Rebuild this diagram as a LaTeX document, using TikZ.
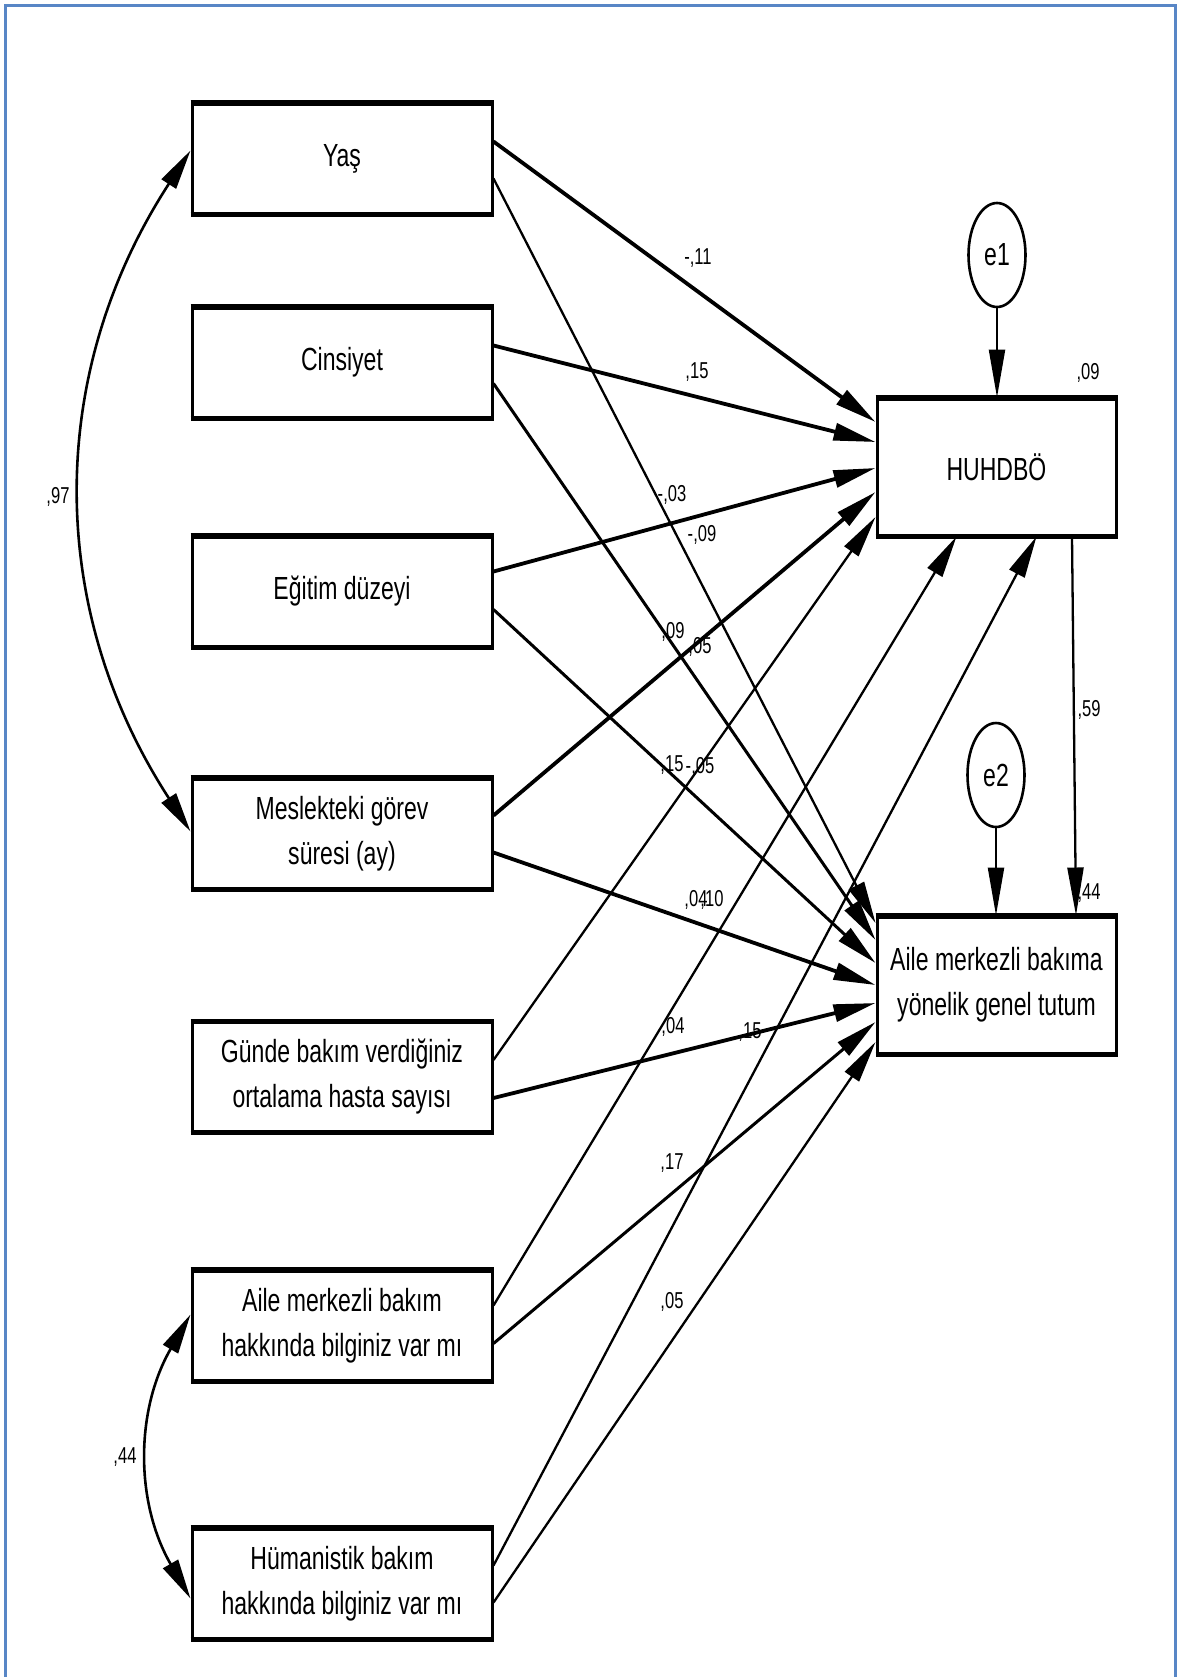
\documentclass[tikz,border=0pt]{standalone}
\usepackage{fontspec}
\setmainfont[FakeStretch=0.72]{Liberation Sans}
\usetikzlibrary{arrows.meta,calc,shapes.geometric}
\definecolor{frameblue}{RGB}{88,134,198}

\begin{document}
\begin{tikzpicture}[x=0.5pt,y=-0.5pt,
  varbox/.style={draw,line width=1.5pt,minimum width=150pt,minimum height=54.5pt,
    inner sep=0pt,align=center,font=\fontsize{16}{22.5}\selectfont},
  outbox/.style={draw,line width=1.5pt,minimum width=119.5pt,minimum height=68pt,
    inner sep=0pt,align=center,font=\fontsize{16}{22.5}\selectfont},
  errnode/.style={draw,ellipse,line width=1.3pt,minimum width=28.5pt,minimum height=52pt,
    inner sep=0pt,font=\fontsize{16}{20}\selectfont},
  edgeline/.style={line width=2.2pt},
  headtip/.style={-{Triangle[length=21pt,width=8.5pt]}},
  thickarr/.style={headtip,line width=1.9pt},
  midarr/.style={headtip,line width=1.5pt},
  thinarr/.style={headtip,line width=1.15pt},
  covarr/.style={{Triangle[length=20pt,width=8.5pt]}-{Triangle[length=20pt,width=8.5pt]},line width=1.3pt},
  coef/.style={font=\fontsize{11.5}{13}\selectfont,inner sep=0pt}]

% page and frame
\useasboundingbox (0,0) rectangle (1179,1677);
\fill[white] (0,0) rectangle (1179,1677);
\draw[frameblue,line width=1.5pt] (5,1690) -- (5,5) -- (1175,5) -- (1175,1690);

% observed predictors
\node[varbox] (yas) at (342,158.5) {Yaş};
\node[varbox] (cin) at (342,362.5) {Cinsiyet};
\node[varbox] (egi) at (342,591.5) {Eğitim düzeyi};
\node[varbox] (mes) at (342,833.5) {Meslekteki görev\\süresi (ay)};
\node[varbox] (gun) at (342,1077) {Günde bakım verdiğiniz\\ortalama hasta sayısı};
\node[varbox] (amb) at (342,1325.5) {Aile merkezli bakım\\hakkında bilginiz var mı};
\node[varbox] (hum) at (342,1583.5) {Hümanistik bakım\\hakkında bilginiz var mı};

% outcomes and error terms
\node[outbox] (huh) at (996.5,467) {HUHDBÖ};
\node[outbox] (aile) at (996.5,985) {Aile merkezli bakıma\\yönelik genel tutum};
\node[errnode] (e1) at (997,255) {e1};
\node[errnode] (e2) at (996,775) {e2};

% heavier top and bottom edges of the boxes
\foreach \n in {yas,cin,egi,mes,gun,amb,hum,huh,aile}
  \draw[edgeline] (\n.north west) -- (\n.north east) (\n.south west) -- (\n.south east);

% paths to HUHDBÖ
\draw[thickarr] ($(yas.east)+(0,-17)$) -- ($(huh.west)+(0,-45)$);
\draw[thickarr] ($(cin.east)+(0,-17)$) -- ($(huh.west)+(0,-25)$);
\draw[thickarr] ($(egi.east)+(0,-20)$) -- ($(huh.west)+(0,1)$);
\draw[thickarr] ($(mes.east)+(0,-18)$) -- ($(huh.west)+(0,25)$);
\draw[thinarr]  ($(gun.east)+(0,-17)$) -- ($(huh.west)+(0,50)$);
\draw[thinarr]  ($(amb.east)+(0,-20)$) -- ($(huh.south)+(-40,0)$);
\draw[thinarr]  ($(hum.east)+(0,-18)$) -- ($(huh.south)+(40,0)$);

% paths to family-centred care attitude
\draw[thinarr]  ($(yas.east)+(0,20)$) -- ($(aile.west)+(0,-62)$);
\draw[midarr]   ($(cin.east)+(0,21)$) -- ($(aile.west)+(0,-45)$);
\draw[midarr]   ($(egi.east)+(0,18)$) -- ($(aile.west)+(0,-22)$);
\draw[thickarr] ($(mes.east)+(0,19)$) -- ($(aile.west)+(0,0)$);
\draw[thickarr] ($(gun.east)+(0,21)$) -- ($(aile.west)+(0,18)$);
\draw[midarr]   ($(amb.east)+(0,18)$) -- ($(aile.west)+(0,37)$);
\draw[thinarr]  ($(hum.east)+(0,19)$) -- ($(aile.west)+(0,57)$);

% error terms and mediator path
\draw[thinarr,-{Triangle[length=24pt,width=8pt]}] (e1.south) -- (huh.north -| e1.south);
\draw[thinarr,-{Triangle[length=24pt,width=8pt]}] (e2.south) -- (aile.north -| e2.south);
\draw[thinarr,-{Triangle[length=24pt,width=8pt]}] ($(huh.south)+(75.5,0)$) -- ($(aile.north)+(79.5,0)$);

% covariances
\draw[covarr] ($(yas.west)+(0,-8)$) to[bend right=33] ($(mes.west)+(0,-2)$);
\draw[covarr] ($(amb.west)+(0,-11)$) to[bend right=30] ($(hum.west)+(0,15)$);

% coefficients
\node[coef] (c1) at (698,258) {-,11};
\node[coef] (c2) at (697,372) {,15};
\node[coef] (c3) at (672,495) {-,03};
\node[coef] (c4) at (702,535) {-,09};
\node[coef] (c5) at (673,632) {,09};
\node[coef] (c6) at (700,647) {,05};
\node[coef] (c7) at (672,765) {,15};
\node[coef] (c8) at (700,767) {-,05};
\node[coef] (c9) at (696,900) {,04};
\node[coef] (c10) at (712,900) {,10};
\node[coef] (c11) at (673,1027) {,04};
\node[coef] (c12) at (750,1032) {,15};
\node[coef] (c13) at (672,1163) {,17};
\node[coef] (c14) at (672,1302) {,05};
\node[coef] (r1) at (1088,373) {,09};
\node[coef] (c15) at (1089,710) {,59};
\node[coef] (r2) at (1089,893) {,44};
\node[coef] (k1) at (58,497) {,97};
\node[coef] (k2) at (125,1457) {,44};
\end{tikzpicture}
\end{document}
